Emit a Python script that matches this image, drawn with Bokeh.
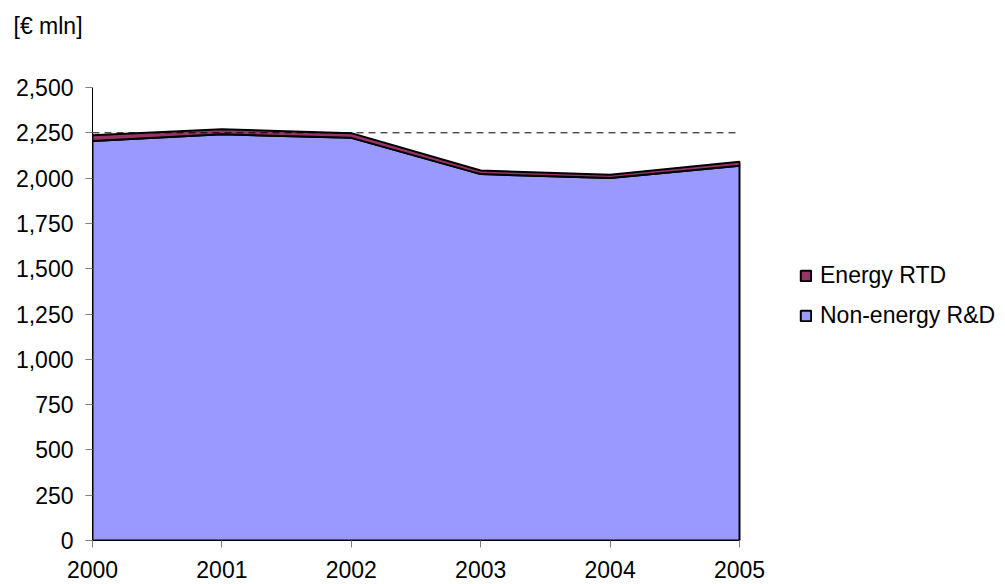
from bokeh.plotting import figure
from bokeh.models import (FixedTicker, NumeralTickFormatter, Legend,
                          LegendItem, Range1d)
from bokeh.embed import file_html
from bokeh.resources import INLINE

years = [2000, 2001, 2002, 2003, 2004, 2005]
non_energy = [2205, 2242, 2222, 2022, 2000, 2068]
energy = [32, 28, 26, 20, 18, 22]
reference_level = 2250
y_ticks = [0, 250, 500, 750, 1000, 1250, 1500, 1750, 2000, 2250, 2500]
series_names = ["Energy RTD", "Non-energy R&D"]
unit_label = "[€ mln]"

FONT = "Liberation Sans"
FS = "23px"

W, H = 1005, 584
LEFT, TOP, BOTTOM = 92, 40, 540       # frame edges (px); frame runs to right edge
AXIS_RIGHT, AXIS_TOP = 739, 87        # where the last year / top tick sit (px)

total = [a + b for a, b in zip(non_energy, energy)]

x_end = years[0] + (years[-1] - years[0]) * (W - LEFT) / (AXIS_RIGHT - LEFT)
y_end = y_ticks[-1] * (BOTTOM - TOP) / (BOTTOM - AXIS_TOP)

p = figure(width=W, height=H, output_backend="svg", toolbar_location=None,
           x_range=Range1d(years[0], x_end), y_range=Range1d(y_ticks[0], y_end),
           min_border_left=LEFT, min_border_right=0, min_border_top=TOP,
           min_border_bottom=H - BOTTOM, title=unit_label)
p.outline_line_color = None
p.grid.visible = False
p.background_fill_color = "white"

p.title.text_font = FONT
p.title.text_font_size = FS
p.title.text_font_style = "normal"
p.title.text_color = "black"
p.title.align = "left"
p.title.offset = -79
p.title.standoff = 4

ne = p.patch(years + [years[-1], years[0]], non_energy + [0, 0],
             fill_color="#9999FF", line_color="black", line_width=2)
en = p.patch(years + years[::-1], total + non_energy[::-1],
             fill_color="#993366", line_color="black", line_width=2)

p.line([years[0], years[-1]], [reference_level, reference_level],
       line_color="black", line_width=1, line_dash="7 5")

for ax in (p.xaxis, p.yaxis):
    ax.axis_line_color = "black"
    ax.axis_line_width = 1
    ax.major_tick_line_color = "#808080"
    ax.major_tick_in = 0
    ax.major_tick_out = 7
    ax.minor_tick_line_color = None
    ax.major_label_text_font = FONT
    ax.major_label_text_font_size = FS
    ax.major_label_text_color = "black"

p.xaxis.ticker = FixedTicker(ticks=years)
p.xaxis.bounds = (years[0], years[-1])
p.xaxis.major_label_standoff = 13
p.yaxis.ticker = FixedTicker(ticks=y_ticks)
p.yaxis.bounds = (y_ticks[0], y_ticks[-1])
p.yaxis.formatter = NumeralTickFormatter(format="0,0")
p.yaxis.major_label_standoff = 12

legend = Legend(items=[LegendItem(label=series_names[0], renderers=[en]),
                       LegendItem(label=series_names[1], renderers=[ne])],
                location=(707, 210), orientation="vertical",
                glyph_width=13, glyph_height=13, label_standoff=8,
                label_height=30, spacing=10, padding=0, margin=0,
                border_line_color=None, background_fill_alpha=0,
                label_text_font=FONT, label_text_font_size=FS,
                label_text_color="black")
p.add_layout(legend, "center")

open("out.html", "w").write(file_html(p, INLINE))
